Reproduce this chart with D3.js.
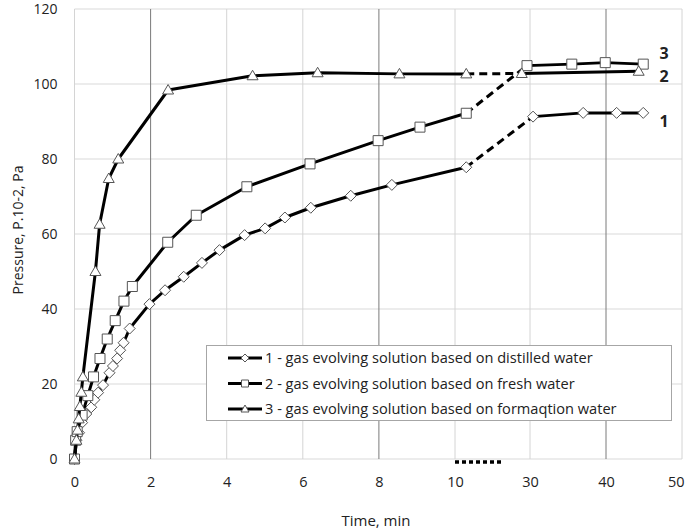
<!DOCTYPE html>
<html>
<head>
<meta charset="utf-8">
<script src="https://cdn.jsdelivr.net/npm/d3@7"></script>
<style>
  body { margin: 0; background: #fff; }
  text { font-family: "Open Sans", "Liberation Sans", sans-serif; fill: #222; }
</style>
</head>
<body>
<div id="chart"></div>
<script>
// time, min / pressure values
var time1 = [0, 0.05, 0.12, 0.2, 0.31, 0.44, 0.52, 0.62, 0.75, 0.92, 1.01, 1.12, 1.2, 1.29, 1.45, 1.97, 2.38, 2.87, 3.35, 3.81, 4.47, 5.01, 5.53, 6.21, 7.26, 8.34, 13, 30.4, 37, 41.4, 44.9];
var pres1 = [0, 5, 7, 9.7, 12, 13.8, 15.8, 17.7, 19.7, 23, 24.8, 26.8, 29, 31, 34.8, 41.3, 45, 48.6, 52.3, 55.7, 59.7, 61.5, 64.4, 67, 70.2, 73.1, 77.8, 91.3, 92.3, 92.3, 92.3];

var time2 = [0, 0.03, 0.07, 0.2, 0.35, 0.5, 0.67, 0.86, 1.07, 1.3, 1.52, 2.45, 3.2, 4.53, 6.19, 7.98, 9.08, 13, 29.2, 35.5, 39.9, 44.9];
var pres2 = [0, 5, 7.3, 11.7, 16.9, 21.9, 26.8, 32, 36.9, 42.1, 46, 57.8, 65, 72.6, 78.7, 84.9, 88.5, 92.2, 104.9, 105.3, 105.7, 105.3];

var time3 = [0, 0.05, 0.08, 0.11, 0.14, 0.18, 0.22, 0.55, 0.66, 0.9, 1.15, 2.46, 4.68, 6.39, 8.54, 13, 27.8, 44.3];
var pres3 = [0, 5, 7.7, 10.7, 14, 17.8, 21.9, 50, 62.6, 74.8, 80, 98.4, 102.2, 103, 102.7, 102.7, 102.8, 103.4];

var seriesNames = [
    "1 - gas evolving solution based on distilled water",
    "2 - gas evolving solution based on fresh water",
    "3 - gas evolving solution based on formaqtion water"
];
var seriesTags = ["1", "2", "3"];
var xTicks = [0, 2, 4, 6, 8, 10, 30, 40, 50];
var yTicks = [0, 20, 40, 60, 80, 100, 120];
var darkGrid = [2, 8, 40];
var breakTime = 13; // last point before the axis break

var width = 685;
var height = 532;

// broken time axis: 10..30 squeezed into one step
var x = d3.scaleLinear().domain([0, 10, 30, 50]).range([74.5, 455, 530, 682]);
var y = d3.scaleLinear().domain([0, 120]).range([459, 9]);

var svg = d3.select("#chart").append("svg")
    .attr("width", width)
    .attr("height", height);

// grid
svg.append("g").selectAll("line")
    .data(yTicks)
    .enter().append("line")
    .attr("x1", x(0)).attr("x2", x(50))
    .attr("y1", d => y(d)).attr("y2", d => y(d))
    .style("stroke", "#d9d9d9").style("stroke-width", 1);

svg.append("g").selectAll("line")
    .data(xTicks)
    .enter().append("line")
    .attr("x1", d => x(d)).attr("x2", d => x(d))
    .attr("y1", y(0)).attr("y2", y(120))
    .style("stroke", d => darkGrid.indexOf(d) >= 0 ? "#7a7a7a" : "#d4d4d4")
    .style("stroke-width", 1);

// axes labels
var xAxis = d3.axisBottom(x).tickValues(xTicks).tickSize(0).tickPadding(18);
var gx = svg.append("g").attr("transform", "translate(0," + y(0) + ")").call(xAxis);
gx.select(".domain").remove();
gx.selectAll("text").style("font-size", "14.5px").style("font-family", "'Open Sans', sans-serif").style("fill", "#222");
// last label sits against the right edge
gx.selectAll("text").filter(d => d === 50).attr("text-anchor", "end").attr("x", 2);

var yAxis = d3.axisLeft(y).tickValues(yTicks).tickSize(0).tickPadding(17);
var gy = svg.append("g").attr("transform", "translate(" + x(0) + ",0)").call(yAxis);
gy.select(".domain").remove();
gy.selectAll("text").style("font-size", "14px").style("font-family", "'Open Sans', sans-serif").style("fill", "#222");

// axis break mark
svg.append("line")
    .attr("x1", x(10)).attr("x2", x(10) + 46)
    .attr("y1", y(0) + 3).attr("y2", y(0) + 3)
    .style("stroke", "#000").style("stroke-width", 3.5)
    .style("stroke-dasharray", "4,3");

svg.append("text")
    .attr("x", 376).attr("y", 526)
    .attr("text-anchor", "middle")
    .style("font-size", "15px")
    .text("Time, min");

svg.append("text")
    .attr("transform", "translate(23,230) rotate(-90)")
    .attr("text-anchor", "middle")
    .style("font-size", "14px")
    .text("Pressure, P.10-2, Pa");

// markers
var markers = [
    "M0,-5.5L5.5,0L0,5.5L-5.5,0Z",
    "M-5,-5H5V5H-5Z",
    "M0,-5.5L5.5,4L-5.5,4Z"
];
var smallMarkers = [
    "M0,-4L4,0L0,4L-4,0Z",
    "M-3.5,-3.5H3.5V3.5H-3.5Z",
    "M0,-4L4,3L-4,3Z"
];

var allSeries = [
    d3.zip(time1, pres1),
    d3.zip(time2, pres2),
    d3.zip(time3, pres3)
];

var line = d3.line().x(d => x(d[0])).y(d => y(d[1]));

allSeries.forEach(function (pts, i) {
    var k = pts.findIndex(d => d[0] === breakTime);
    var before = pts.slice(0, k + 1);
    var gap = pts.slice(k, k + 2);
    var after = pts.slice(k + 1);
    var g = svg.append("g");

    g.append("path").attr("d", line(before))
        .style("fill", "none").style("stroke", "#000").style("stroke-width", 3)
        .style("stroke-linejoin", "round");
    g.append("path").attr("d", line(gap))
        .style("fill", "none").style("stroke", "#000").style("stroke-width", 3)
        .style("stroke-dasharray", "8,5");
    g.append("path").attr("d", line(after))
        .style("fill", "none").style("stroke", "#000").style("stroke-width", 3)
        .style("stroke-linejoin", "round");

    g.selectAll(".mk")
        .data(pts)
        .enter().append("path")
        .attr("class", "mk")
        .attr("d", markers[i])
        .attr("transform", d => "translate(" + x(d[0]) + "," + y(d[1]) + ")")
        .style("fill", "#fff").style("stroke", "#555").style("stroke-width", 1);
});

// curve numbers at the right
var tagY = [121, 76, 53];
svg.append("g").selectAll("text")
    .data(seriesTags)
    .enter().append("text")
    .attr("x", 664).attr("y", (d, i) => tagY[i] + 6)
    .attr("text-anchor", "middle")
    .style("font-size", "16px").style("font-weight", "bold")
    .text(d => d);

// legend
var legend = svg.append("g");
legend.append("rect")
    .attr("x", 206.5).attr("y", 345.5)
    .attr("width", 465).attr("height", 75)
    .style("fill", "#fff").style("stroke", "#a6a6a6").style("stroke-width", 1);

var keys = legend.selectAll(".key")
    .data(seriesNames)
    .enter().append("g")
    .attr("class", "key")
    .attr("transform", (d, i) => "translate(0," + (358 + i * 25.5) + ")");

keys.append("line")
    .attr("x1", 228).attr("x2", 262)
    .style("stroke", "#000").style("stroke-width", 3);

keys.append("path")
    .attr("d", (d, i) => smallMarkers[i])
    .attr("transform", "translate(245,0)")
    .style("fill", "#fff").style("stroke", "#555").style("stroke-width", 1);

keys.append("text")
    .attr("x", 265).attr("y", 5)
    .style("font-size", "14.6px")
    .text(d => d);
</script>
</body>
</html>
